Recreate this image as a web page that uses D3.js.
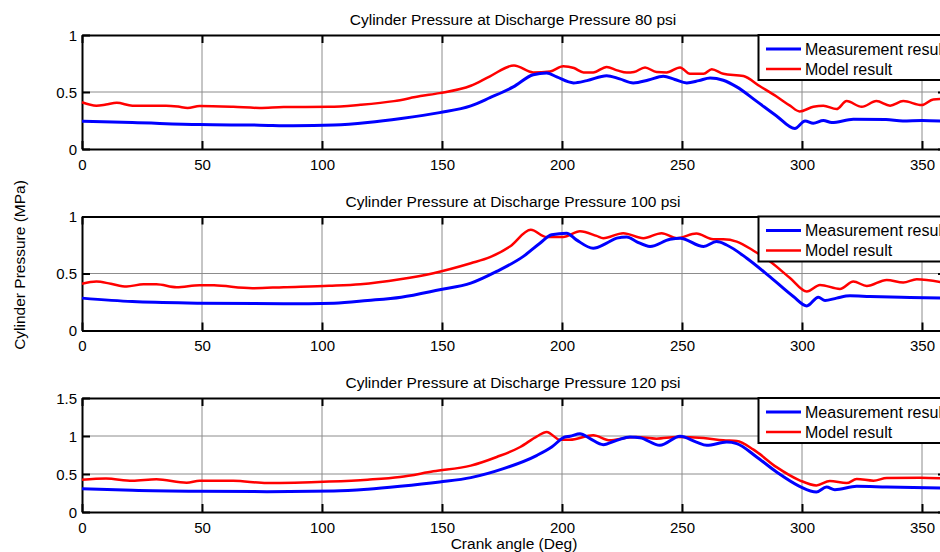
<!DOCTYPE html>
<html>
<head>
<meta charset="utf-8">
<script src="https://cdn.jsdelivr.net/npm/d3@7"></script>
<style>
  html, body { margin: 0; padding: 0; background: #fff; }
  svg { display: block; font-family: "Liberation Sans", Arial, sans-serif; }
</style>
</head>
<body>
<svg id="chart" width="940" height="552"></svg>
<script>
// Crank angle ticks shared by all three panels
const angleTicks = [0, 50, 100, 150, 200, 250, 300, 350];
const panelTitles = [
  "Cylinder Pressure at Discharge Pressure 80 psi",
  "Cylinder Pressure at Discharge Pressure 100 psi",
  "Cylinder Pressure at Discharge Pressure 120 psi"
];
const yTicks80 = [0, 0.5, 1];
const yTicks100 = [0, 0.5, 1];
const yTicks120 = [0, 0.5, 1, 1.5];
const legendLabels = ["Measurement result", "Model result"];

// [crank angle (deg), pressure (MPa)]
const measured80 = [[0,0.243],[21,0.232],[49,0.214],[74,0.209],[88,0.203],[105,0.21],[119,0.232],[133,0.267],[149,0.319],[162,0.378],[170,0.45],[179.7,0.545],[188,0.652],[193.6,0.667],[197.8,0.632],[204.8,0.58],[210.4,0.60],[218.6,0.643],[224,0.615],[229.7,0.58],[236,0.605],[242.2,0.638],[247,0.61],[252,0.58],[257,0.60],[261.7,0.623],[267.2,0.603],[272.8,0.545],[281,0.42],[289.4,0.29],[297,0.18],[301.3,0.246],[304.7,0.226],[308.9,0.25],[312.4,0.232],[321.4,0.26],[335,0.258],[342,0.246],[350,0.25],[360,0.243]];
const model80 = [[0,0.41],[6,0.38],[10,0.39],[14.5,0.405],[21,0.38],[35,0.38],[40,0.372],[44,0.36],[49,0.377],[63,0.37],[74,0.36],[84,0.368],[103,0.37],[116,0.388],[130,0.42],[141,0.464],[149,0.49],[162,0.555],[170,0.638],[180,0.733],[188,0.672],[195,0.68],[200.5,0.725],[205,0.71],[209,0.672],[213,0.672],[218.6,0.72],[223,0.69],[227,0.67],[230,0.675],[234.6,0.716],[239.4,0.675],[243.6,0.672],[249.2,0.716],[253.3,0.66],[259,0.66],[262.4,0.70],[267.2,0.66],[275.6,0.64],[282.5,0.55],[289.4,0.46],[295,0.38],[299,0.33],[304.7,0.37],[308.9,0.38],[314.4,0.35],[318.6,0.42],[324.9,0.37],[331,0.42],[336.7,0.38],[342.2,0.42],[349.9,0.385],[354.7,0.435],[360,0.44]];

const measured100 = [[0,0.284],[21,0.254],[49,0.24],[84,0.234],[105,0.24],[119,0.263],[133,0.292],[149,0.357],[162,0.415],[172.8,0.518],[183.9,0.65],[190.8,0.766],[195.7,0.84],[201.9,0.854],[206,0.795],[213,0.722],[218.6,0.766],[222.8,0.81],[227,0.82],[231,0.78],[236.7,0.737],[245,0.80],[249.2,0.81],[259,0.737],[264.4,0.78],[268.6,0.75],[277,0.634],[286.7,0.47],[296.4,0.298],[302,0.216],[306.8,0.292],[309.6,0.263],[314.4,0.284],[320,0.304],[328.3,0.298],[345,0.29],[360,0.284]];
const model100 = [[0,0.41],[6,0.43],[12,0.41],[18.6,0.386],[25.6,0.406],[31,0.406],[39.4,0.38],[49,0.398],[55,0.396],[71,0.371],[84,0.38],[103,0.392],[116,0.406],[132.5,0.45],[146.4,0.503],[162,0.59],[170,0.643],[178.3,0.737],[187,0.883],[193.6,0.82],[200.5,0.82],[207.5,0.87],[214.4,0.83],[217.2,0.81],[225.5,0.854],[233.9,0.81],[241.5,0.854],[247.8,0.81],[256,0.85],[263,0.80],[267.2,0.80],[272.8,0.78],[279.8,0.70],[286.7,0.605],[295,0.46],[302,0.342],[307.5,0.40],[315.8,0.365],[321.4,0.43],[327,0.39],[335.3,0.444],[342.2,0.42],[347.8,0.45],[360,0.415]];

const measured120 = [[0,0.307],[21,0.285],[49,0.272],[77,0.268],[105,0.276],[119,0.30],[132.5,0.338],[149,0.395],[162,0.452],[175.6,0.57],[189.6,0.746],[195.7,0.855],[201.2,0.987],[203.3,0.996],[207.5,1.03],[211.7,0.965],[217.2,0.886],[222.8,0.943],[228.3,0.987],[232.5,0.978],[240.8,0.877],[249.2,0.996],[256,0.92],[260.3,0.877],[268.6,0.92],[272.8,0.90],[281.1,0.724],[289.4,0.526],[299,0.338],[306,0.263],[310.2,0.329],[313.7,0.294],[322.8,0.338],[335.3,0.329],[360,0.316]];
const model120 = [[0,0.425],[10,0.44],[21,0.41],[31,0.43],[43.6,0.386],[49,0.41],[63,0.41],[77,0.38],[103,0.40],[119,0.425],[132.5,0.46],[146.4,0.535],[162,0.61],[172.8,0.724],[182.6,0.855],[189.6,0.996],[193.6,1.053],[199.2,0.95],[203.3,0.95],[213,1.01],[220,0.943],[227,0.978],[231,0.987],[239.4,0.965],[247.8,0.987],[259,0.974],[267.2,0.943],[272.8,0.934],[279.8,0.82],[289.4,0.59],[299,0.417],[306,0.35],[311.6,0.408],[318.6,0.38],[322.8,0.434],[329.8,0.412],[335.3,0.447],[349.2,0.45],[360,0.44]];

const panels = [
  { title: panelTitles[0], yMax: 1,   yTicks: yTicks80,  measured: measured80,  model: model80 },
  { title: panelTitles[1], yMax: 1,   yTicks: yTicks100, measured: measured100, model: model100 },
  { title: panelTitles[2], yMax: 1.5, yTicks: yTicks120, measured: measured120, model: model120 }
];

const svg = d3.select("#chart");
const left = 82, right = 946, panelH = 114;
const tops = [35, 216.5, 398];
const blue = "#0000ff", red = "#ff0000";

const x = d3.scaleLinear().domain([0, 360]).range([left, right]);

panels.forEach((p, i) => {
  const top = tops[i], bottom = top + panelH;
  const y = d3.scaleLinear().domain([0, p.yMax]).range([bottom, top]);
  const g = svg.append("g");

  // grid
  g.append("g").selectAll("line").data(angleTicks.filter(t => t > 0)).join("line")
    .attr("x1", d => x(d)).attr("x2", d => x(d))
    .attr("y1", top).attr("y2", bottom)
    .attr("stroke", "#8c8c8c").attr("stroke-width", 1);
  g.append("g").selectAll("line").data(p.yTicks.filter(t => t > 0 && t < p.yMax)).join("line")
    .attr("x1", left).attr("x2", right)
    .attr("y1", d => y(d)).attr("y2", d => y(d))
    .attr("stroke", "#8c8c8c").attr("stroke-width", 1);

  // axes: ticks pointing inward, labels outside
  const xb = g.append("g").attr("transform", `translate(0,${bottom})`)
    .call(d3.axisBottom(x).tickValues(angleTicks).tickSize(-8).tickPadding(10).tickSizeOuter(0));
  const xt = g.append("g").attr("transform", `translate(0,${top})`)
    .call(d3.axisTop(x).tickValues(angleTicks).tickSize(-8).tickFormat("").tickSizeOuter(0));
  const yl = g.append("g").attr("transform", `translate(${left},0)`)
    .call(d3.axisLeft(y).tickValues(p.yTicks).tickSize(-8).tickPadding(5).tickFormat(d3.format("~g")).tickSizeOuter(0));
  const yr = g.append("g").attr("transform", `translate(${right},0)`)
    .call(d3.axisRight(y).tickValues(p.yTicks).tickSize(-8).tickFormat("").tickSizeOuter(0));
  [xb, xt, yl, yr].forEach(a => {
    a.select(".domain").attr("stroke", "#000").attr("stroke-width", 2);
    a.selectAll(".tick line").attr("stroke", "#000").attr("stroke-width", 2);
    a.selectAll(".tick text").attr("fill", "#000").attr("font-size", 15)
      .attr("font-family", "Liberation Sans, Arial, sans-serif");
  });
  yl.selectAll(".tick text").attr("dy", "0.35em");

  // curves
  const line = d3.line().x(d => x(d[0])).y(d => y(d[1])).curve(d3.curveMonotoneX);
  g.append("path").datum(p.model).attr("d", line)
    .attr("fill", "none").attr("stroke", red).attr("stroke-width", 2.5).attr("stroke-linejoin", "round");
  g.append("path").datum(p.measured).attr("d", line)
    .attr("fill", "none").attr("stroke", blue).attr("stroke-width", 3).attr("stroke-linejoin", "round");

  // title
  g.append("text").attr("x", (left + right) / 2 - 1).attr("y", top - 10)
    .attr("text-anchor", "middle").attr("font-size", 15.5).text(p.title);

  // legend
  const lg = g.append("g");
  lg.append("rect").attr("x", 758.5).attr("y", top).attr("width", 200).attr("height", 45)
    .attr("fill", "#fff").attr("stroke", "#000").attr("stroke-width", 2);
  [[blue, legendLabels[0], 14], [red, legendLabels[1], 34]].forEach(([c, label, dy]) => {
    lg.append("line").attr("x1", 766).attr("x2", 801).attr("y1", top + dy).attr("y2", top + dy)
      .attr("stroke", c).attr("stroke-width", c === blue ? 3 : 2.5);
    lg.append("text").attr("x", 805).attr("y", top + dy).attr("dy", "0.35em")
      .attr("font-size", 16).text(label);
  });
});

// shared axis labels
svg.append("text").attr("transform", "translate(25,265) rotate(-90)")
  .attr("text-anchor", "middle").attr("font-size", 15.5).text("Cylinder Pressure (MPa)");
svg.append("text").attr("x", (left + right) / 2).attr("y", 549)
  .attr("text-anchor", "middle").attr("font-size", 15.5).text("Crank angle (Deg)");
</script>
</body>
</html>
